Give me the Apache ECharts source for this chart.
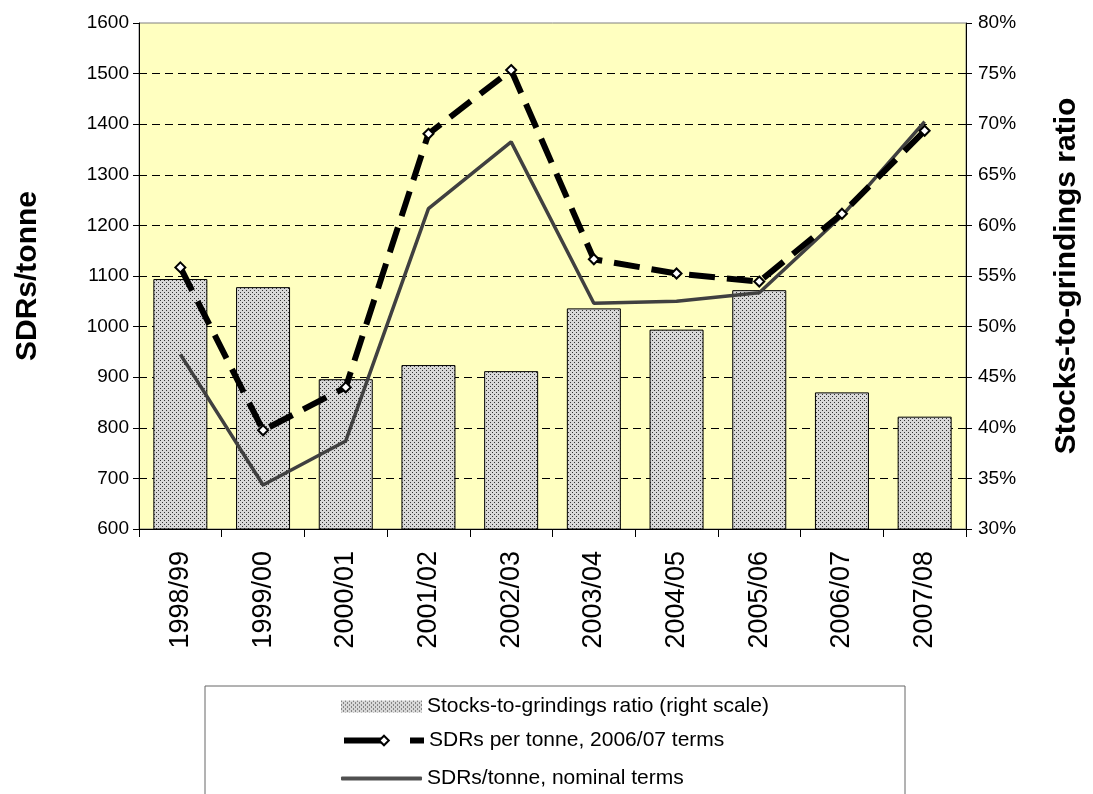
<!DOCTYPE html>
<html>
<head>
<meta charset="utf-8">
<script src="https://cdn.jsdelivr.net/npm/echarts@6/dist/echarts.min.js"></script>
<style>
html, body { margin: 0; padding: 0; background: #fff; }
#chart { width: 1093px; height: 794px; }
</style>
</head>
<body>
<div id="chart"></div>
<script>
// seasons on the x axis
var seasons = ['1998/99', '1999/00', '2000/01', '2001/02', '2002/03', '2003/04', '2004/05', '2005/06', '2006/07', '2007/08'];
// stocks-to-grindings ratio, % (right scale)
var stocksRatio = [54.7, 53.9, 44.8, 46.2, 45.6, 51.8, 49.7, 53.6, 43.5, 41.1];
// SDRs per tonne, 2006/07 terms
var realPrice = [1117, 795, 880, 1381, 1507, 1133, 1105, 1089, 1223, 1387];
// SDRs per tonne, nominal terms
var nominalPrice = [945, 687, 774, 1233, 1365, 1046, 1050, 1067, 1219, 1405];

var font = 'Liberation Sans, Arial, sans-serif';
var legendText = { fontFamily: font, fontSize: 21, color: '#000' };

// dotted fill like the excel pattern
function dotPattern() {
	var c = document.createElement('canvas');
	c.width = 4;
	c.height = 4;
	var ctx = c.getContext('2d');
	ctx.fillStyle = '#d8d8d8';
	ctx.fillRect(0, 0, 4, 4);
	ctx.fillStyle = '#333';
	ctx.fillRect(0, 0, 1, 1);
	ctx.fillRect(2, 2, 1, 1);
	return { image: c, repeat: 'repeat' };
}
var barFill = dotPattern();

var chart = echarts.init(document.getElementById('chart'));
chart.setOption({
	animation: false,
	textStyle: { fontFamily: font, color: '#000' },
	grid: {
		left: 139, right: 127, top: 23, bottom: 265,
		outerBoundsMode: 'none',
		show: true,
		backgroundColor: '#FFFFC0',
		borderColor: '#808080',
		borderWidth: 1
	},
	graphic: [
		{
			type: 'rect',
			z: -1,
			shape: { x: 205, y: 686, width: 700, height: 200 },
			style: { fill: '#fff', stroke: '#666', lineWidth: 1 }
		}
	],
	// one legend per row, so they stack like the excel box
	legend: [
		{
			left: 336, top: 691,
			itemWidth: 81, itemHeight: 12,
			textStyle: legendText,
			data: [{ name: 'Stocks-to-grindings ratio (right scale)', icon: 'rect', itemStyle: { color: barFill, borderWidth: 0 } }]
		},
		{
			left: 336, top: 725,
			itemWidth: 80, itemHeight: 12,
			textStyle: legendText,
			lineStyle: { width: 6, type: [38, 28] },
			data: ['SDRs per tonne, 2006/07 terms']
		},
		{
			left: 336, top: 763,
			itemWidth: 81, itemHeight: 4,
			textStyle: legendText,
			data: [{ name: 'SDRs/tonne, nominal terms', icon: 'roundRect', itemStyle: { color: '#505050', borderWidth: 0 } }]
		}
	],
	xAxis: {
		type: 'category',
		data: seasons,
		boundaryGap: true,
		axisLine: { lineStyle: { color: '#000', width: 1 } },
		axisTick: { show: true, length: 8, lineStyle: { color: '#000' } },
		axisLabel: { rotate: 90, fontSize: 27, color: '#000', margin: 22, fontFamily: font },
		splitLine: { show: false }
	},
	yAxis: [
		{
			type: 'value',
			min: 600,
			max: 1600,
			interval: 100,
			name: 'SDRs/tonne',
			nameLocation: 'middle',
			nameRotate: 90,
			nameGap: 96,
			nameTextStyle: { fontSize: 30, fontWeight: 'bold', fontFamily: font, color: '#000' },
			axisLine: { show: true, lineStyle: { color: '#000' } },
			axisTick: { show: true, length: 6, lineStyle: { color: '#000' } },
			axisLabel: { fontSize: 19, color: '#000', margin: 10, fontFamily: font, formatter: function (v) { return String(v); } },
			splitLine: {
				show: true,
				showMaxLine: false,
				lineStyle: { color: '#000', type: [8, 5], width: 1 }
			}
		},
		{
			type: 'value',
			min: 30,
			max: 80,
			interval: 5,
			position: 'right',
			name: 'Stocks-to-grindings ratio',
			nameLocation: 'middle',
			nameRotate: 90,
			nameGap: 86,
			nameTextStyle: { fontSize: 30, fontWeight: 'bold', fontFamily: font, color: '#000' },
			axisLine: { show: true, lineStyle: { color: '#000' } },
			axisTick: { show: true, length: 6, lineStyle: { color: '#000' } },
			axisLabel: { fontSize: 19, color: '#000', margin: 12, fontFamily: font, formatter: '{value}%' },
			splitLine: { show: false }
		}
	],
	series: [
		{
			name: 'Stocks-to-grindings ratio (right scale)',
			type: 'bar',
			yAxisIndex: 1,
			barWidth: 54,
			data: stocksRatio,
			itemStyle: { color: barFill, borderColor: '#000', borderWidth: 1 },
			z: 2
		},
		{
			name: 'SDRs per tonne, 2006/07 terms',
			type: 'line',
			data: realPrice,
			symbol: 'diamond',
			symbolSize: 10,
			lineStyle: { color: '#000', width: 6, type: [26, 12] },
			itemStyle: { color: '#fff', borderColor: '#000', borderWidth: 2 },
			z: 4
		},
		{
			name: 'SDRs/tonne, nominal terms',
			type: 'line',
			data: nominalPrice,
			symbol: 'none',
			lineStyle: { color: '#404040', width: 3.5 },
			itemStyle: { color: '#404040' },
			z: 3
		}
	]
});
</script>
</body>
</html>
